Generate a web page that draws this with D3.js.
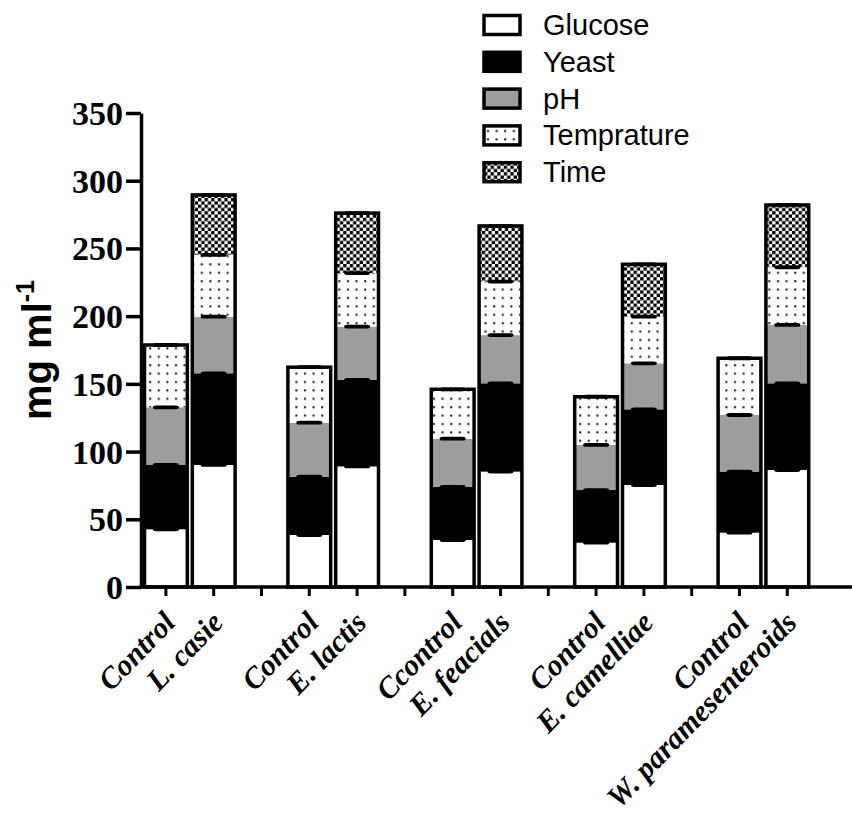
<!DOCTYPE html>
<html lang="en">
<head>
<meta charset="utf-8">
<title>Stacked bars</title>
<script src="https://cdn.jsdelivr.net/npm/d3@7"></script>
<style>
  body { margin: 0; background: #fff; }
  svg { display: block; }
</style>
</head>
<body>
<svg width="852" height="816"></svg>
<script>
// bar labels (pairs: control / strain)
var labels = ["Control", "L. casie", "Control", "E. lactis", "Ccontrol", "E. feacials",
              "Control", "E. camelliae", "Control", "W. paramesenteroids"];
var seriesNames = ["Glucose", "Yeast", "pH", "Temprature", "Time"];
var glucose    = [42.6, 90.1, 38.4, 89.0, 34.7, 85.2, 32.7, 75.3, 40.1, 86.4];
var yeast      = [47.5, 67.7, 43.1, 64.0, 39.3, 65.2, 38.9, 55.9, 45.1, 64.0];
var ph         = [42.6, 41.8, 39.8, 39.3, 35.5, 35.6, 33.3, 34.0, 41.8, 43.1];
var temprature = [46.0, 45.6, 41.0, 39.5, 36.5, 39.5, 35.6, 34.4, 41.9, 42.6];
var time       = [0, 44.3, 0, 44.3, 0, 41.1, 0, 38.7, 0, 46.0];
var errs       = [1.4, 1.4, 1.4, 1.4, 1.4];
var yTicks = [0, 50, 100, 150, 200, 250, 300, 350];

var svg = d3.select("svg");
var x0 = 141, xEnd = 852, yBase = 587, yTop = 113;

// slot index: two bars then an empty gap
function slot(i) { return Math.floor(i / 2) * 3 + (i % 2); }

var x = d3.scaleBand().domain(d3.range(15)).range([x0 + 1, x0 + 1 + 15 * 47.8]).padding(0);
var y = d3.scaleLinear().domain([0, 350]).range([yBase, yTop]);

// patterns
var defs = svg.append("defs");
var dots = defs.append("pattern").attr("id", "dots").attr("patternUnits", "userSpaceOnUse")
    .attr("width", 8.6).attr("height", 8.4);
dots.append("rect").attr("width", 8.6).attr("height", 8.4).attr("fill", "#fff");
dots.append("rect").attr("x", 3).attr("y", 3).attr("width", 2).attr("height", 2).attr("fill", "#111");

var check = defs.append("pattern").attr("id", "check").attr("patternUnits", "userSpaceOnUse")
    .attr("width", 6.6).attr("height", 6.6);
check.append("rect").attr("width", 6.6).attr("height", 6.6).attr("fill", "#fff");
check.append("rect").attr("width", 3.3).attr("height", 3.3).attr("fill", "#000");
check.append("rect").attr("x", 3.3).attr("y", 3.3).attr("width", 3.3).attr("height", 3.3).attr("fill", "#000");

var fills = ["#fff", "#000", "#9d9d9f", "url(#dots)", "url(#check)"];

var rows = labels.map(function (l, i) {
    return { label: l, Glucose: glucose[i], Yeast: yeast[i], pH: ph[i],
             Temprature: temprature[i], Time: time[i], idx: i };
});
var stack = d3.stack().keys(seriesNames)(rows);

var bw = x.bandwidth();
var pad = 2.5;

// segments
stack.forEach(function (layer, k) {
    svg.append("g").selectAll("rect").data(layer.filter(function (d) { return d[1] > d[0]; }))
        .enter().append("rect")
        .attr("x", function (d) { return x(slot(d.data.idx)) + pad; })
        .attr("width", bw - 2 * pad)
        .attr("y", function (d) { return y(d[1]); })
        .attr("height", function (d) { return y(d[0]) - y(d[1]); })
        .attr("fill", fills[k]);
});

// error caps at the top of each segment (small blobs)
stack.forEach(function (layer, k) {
    svg.append("g").selectAll("rect").data(layer.filter(function (d) { return d[1] > d[0]; }))
        .enter().append("rect")
        .attr("x", function (d) { return x(slot(d.data.idx)) + bw / 2 - 13; })
        .attr("width", 26)
        .attr("y", function (d) { return y(d[1] + errs[k]); })
        .attr("height", function (d) { return y(d[1] - errs[k]) - y(d[1] + errs[k]); })
        .attr("rx", 3).attr("fill", "#000");
});

// bar outlines
svg.append("g").selectAll("rect").data(rows).enter().append("rect")
    .attr("x", function (d) { return x(slot(d.idx)) + pad; })
    .attr("width", bw - 2 * pad)
    .attr("y", function (d) { return y(d.Glucose + d.Yeast + d.pH + d.Temprature + d.Time); })
    .attr("height", function (d) { return yBase - y(d.Glucose + d.Yeast + d.pH + d.Temprature + d.Time); })
    .attr("fill", "none").attr("stroke", "#000").attr("stroke-width", 3.5);

// y axis
var yAxis = svg.append("g").attr("transform", "translate(" + x0 + ",0)")
    .call(d3.axisLeft(y).tickValues(yTicks).tickSize(15).tickPadding(3).tickSizeOuter(0));
yAxis.select(".domain").attr("stroke-width", 3.5);
yAxis.selectAll(".tick line").attr("stroke-width", 3.5);
yAxis.selectAll("text").attr("font-family", "'Liberation Serif', 'Times New Roman', serif")
    .attr("font-weight", "bold").attr("font-size", 34).attr("fill", "#000").attr("dy", "0.34em");

// x axis
svg.append("line").attr("x1", x0 - 1.5).attr("x2", xEnd).attr("y1", yBase).attr("y2", yBase)
    .attr("stroke", "#000").attr("stroke-width", 3.5);
svg.append("g").selectAll("line").data(d3.range(14)).enter().append("line")
    .attr("x1", function (s) { return x(s) + bw / 2; })
    .attr("x2", function (s) { return x(s) + bw / 2; })
    .attr("y1", yBase).attr("y2", yBase + 9)
    .attr("stroke", "#000").attr("stroke-width", 3);

// x labels
svg.append("g").selectAll("text").data(rows).enter().append("text")
    .attr("transform", function (d) {
        var cx = x(slot(d.idx)) + bw / 2 + 11;
        return "translate(" + cx + "," + (yBase + 37) + ") rotate(-46)";
    })
    .attr("text-anchor", "end")
    .attr("font-family", "'Liberation Serif', 'Times New Roman', serif")
    .attr("font-weight", "bold").attr("font-style", "italic").attr("font-size", 30)
    .text(function (d) { return d.label; });

// y title
var yt = svg.append("text").attr("transform", "translate(51,350) rotate(-90)")
    .attr("text-anchor", "middle")
    .attr("font-family", "'Liberation Sans', Arial, sans-serif")
    .attr("font-weight", "bold").attr("font-size", 40);
yt.append("tspan").text("mg ml");
yt.append("tspan").attr("font-size", 25).attr("dy", -17).text("-1");

// legend
var leg = svg.append("g").selectAll("g").data(seriesNames).enter().append("g")
    .attr("transform", function (d, i) { return "translate(484," + (25 + i * 36.8) + ")"; });
leg.append("rect").attr("x", 0).attr("y", -9.5).attr("width", 36).attr("height", 19)
    .attr("fill", function (d, i) { return fills[i]; })
    .attr("stroke", "#000").attr("stroke-width", 3.5);
leg.append("text").attr("x", 59).attr("y", 10)
    .attr("font-family", "'Liberation Sans', Arial, sans-serif").attr("font-size", 29)
    .text(function (d) { return d; });
</script>
</body>
</html>
